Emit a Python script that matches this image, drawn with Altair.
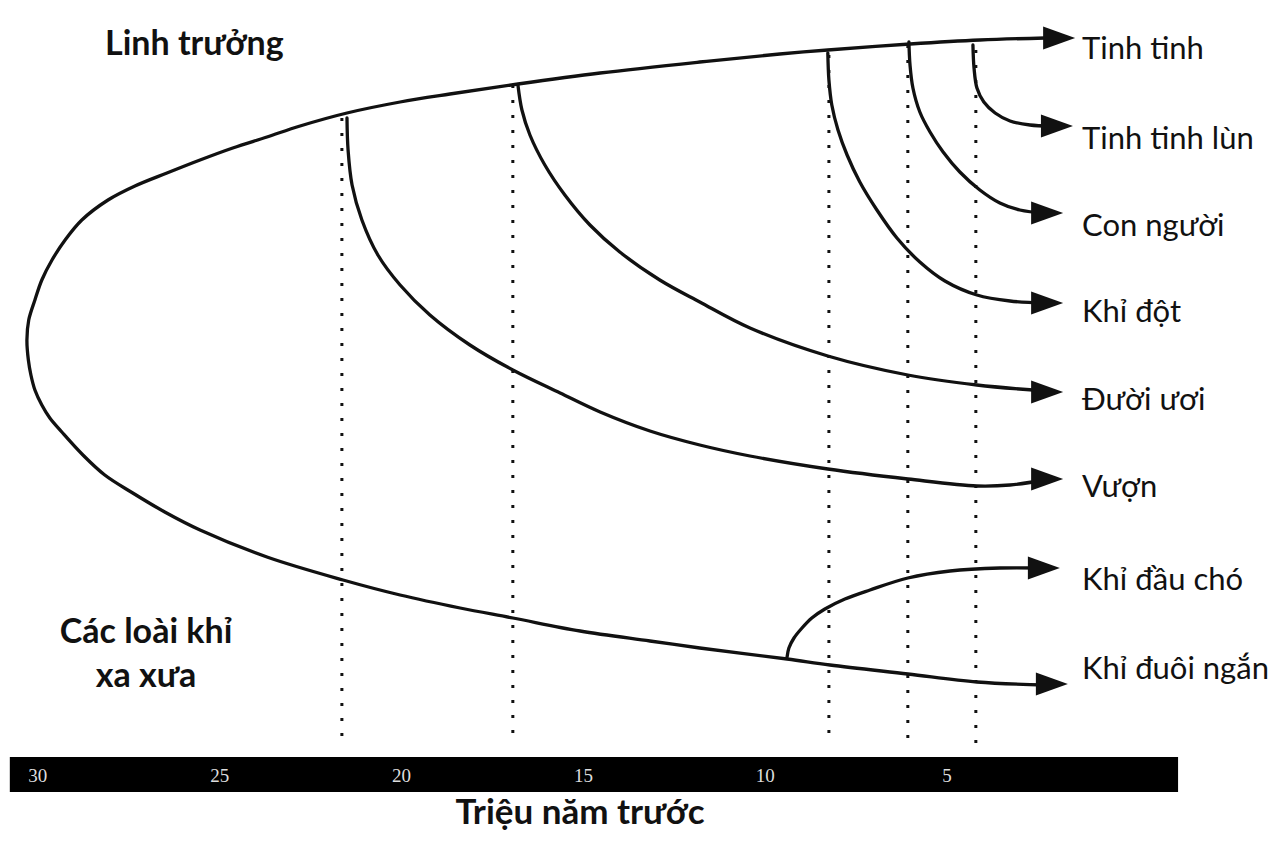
import altair as alt
import pandas as pd

# ---------------- data (time in million years ago, vertical = diagram row position) ----------------
tick_values = [30, 25, 20, 15, 10, 5]
tick_labels = ["30", "25", "20", "15", "10", "5"]
axis_span = [30.77, -1.35]          # extent of the black time bar (Myr)

species = ["Tinh tinh", "Tinh tinh lùn", "Con người", "Khỉ đột",
           "Đười ươi", "Vượn", "Khỉ đầu chó", "Khỉ đuôi ngắn"]
arrow_myr = [1.92, 1.98, 2.25, 2.25, 2.25, 2.25, 2.34, 2.12]
arrow_pos = [38, 126, 213, 303, 392, 479, 568, 684]
label_pos = [59, 149, 236, 322, 410, 497, 590, 679]

# divergence times marked by dotted lines
split_myr = [21.64, 16.94, 8.25, 6.08, 4.21]
split_top = [118, 85, 55, 45, 50]

# root: upper (primates) arc from Tinh tinh back to the origin, then lower (old-world monkeys) arc
root_myr = [2.31, 4.10, 6.02, 8.28, 9.60, 11.80, 14.54, 16.80, 18.67, 20.04, 21.50, 22.79,
            23.70, 24.64, 25.54, 26.45, 27.33, 28.07, 28.79, 29.25, 29.61, 29.89, 30.08, 30.25, 30.30,
            30.26, 30.19, 30.08, 29.89, 29.67, 29.34, 28.76, 28.16, 27.39, 26.51, 25.54, 23.70,
            21.61, 20.04, 18.39, 16.94, 15.09, 13.17, 11.80, 9.40, 8.22, 6.08, 4.18, 2.31]
root_pos = [38, 40, 44, 50, 54, 62, 73, 84, 94, 102, 113, 126,
            137, 148, 160, 173, 186, 200, 220, 240, 260, 280, 300, 320, 340,
            360, 375, 390, 405, 418, 432, 455, 475, 493, 512, 530, 557,
            580, 595, 608, 618, 631, 641, 648, 659, 665, 674, 682, 685]

vuon_myr = [21.50, 21.47, 21.36, 21.09, 20.65, 20.04, 19.22, 18.12, 16.94, 15.64, 14.54,
            13.17, 11.80, 10.42, 8.28, 6.08, 4.18, 3.27, 2.31]
vuon_pos = [118, 150, 185, 220, 255, 285, 315, 345, 370, 393, 412,
            431, 445, 456, 469, 479, 486, 485, 480]

duoi_uoi_myr = [16.80, 16.69, 16.47, 16.06, 15.51, 14.82, 14.00, 12.90, 11.80, 10.42, 8.28, 6.08, 4.18, 2.31]
duoi_uoi_pos = [85, 110, 135, 165, 195, 225, 252, 280, 302, 328, 356, 375, 385, 391]

khi_dot_myr = [8.28, 8.25, 8.17, 8.00, 7.75, 7.40, 6.93, 6.38, 5.75, 5.06, 4.18, 3.27, 2.31]
khi_dot_pos = [53, 80, 105, 130, 155, 182, 210, 238, 262, 281, 295, 301, 303]

con_nguoi_myr = [6.05, 6.02, 5.94, 5.75, 5.47, 5.11, 4.65, 4.10, 3.55, 3.00, 2.31]
con_nguoi_pos = [42, 65, 88, 112, 132, 152, 172, 190, 203, 210, 213]

tinh_tinh_lun_myr = [4.29, 4.26, 4.18, 3.99, 3.68, 3.27, 2.72, 2.17]
tinh_tinh_lun_pos = [45, 68, 88, 102, 113, 121, 125, 126]

khi_dau_cho_myr = [9.40, 9.35, 9.21, 8.99, 8.72, 8.36, 7.81, 7.12, 6.08, 4.92, 3.55, 2.45]
khi_dau_cho_pos = [657, 648, 638, 628, 618, 609, 599, 590, 578, 571, 568, 568]

# ---------------- tables ----------------
paths = {
    "gốc": (root_myr, root_pos),
    "Vượn": (vuon_myr, vuon_pos),
    "Đười ươi": (duoi_uoi_myr, duoi_uoi_pos),
    "Khỉ đột": (khi_dot_myr, khi_dot_pos),
    "Con người": (con_nguoi_myr, con_nguoi_pos),
    "Tinh tinh lùn": (tinh_tinh_lun_myr, tinh_tinh_lun_pos),
    "Khỉ đầu chó": (khi_dau_cho_myr, khi_dau_cho_pos),
}
rows = []
for name, (ms, ps) in paths.items():
    for i, (m, p) in enumerate(zip(ms, ps)):
        rows.append({"branch": name, "step": i, "myr": m, "pos": p})
paths_df = pd.DataFrame(rows)

sp_df = pd.DataFrame({"species": species, "myr": arrow_myr, "pos": arrow_pos, "label_pos": label_pos})
split_df = pd.DataFrame({"myr": split_myr, "top": split_top})
tick_df = pd.DataFrame({"myr": tick_values, "label": tick_labels})
bar_df = pd.DataFrame({"start": [axis_span[0]], "end": [axis_span[1]]})

FONT = "Lato, Liberation Sans, sans-serif"
INK = "#111111"

X = alt.Scale(domain=[-3.85, 30.82], reverse=True, nice=False, zero=False)
Y = alt.Scale(domain=[8, 833], reverse=True, nice=False, zero=False)

dotted = alt.Chart(split_df).mark_rule(
    color=INK, strokeWidth=3, strokeDash=[3, 12], strokeCap="butt"
).encode(
    x=alt.X("myr:Q", scale=X, axis=None),
    y=alt.Y("top:Q", scale=Y, axis=None),
    y2=alt.value(737),
)

lines = alt.Chart(paths_df).mark_line(
    color=INK, strokeWidth=3.3, interpolate="catmull-rom", strokeCap="round", strokeJoin="round"
).encode(
    x=alt.X("myr:Q", scale=X, axis=None),
    y=alt.Y("pos:Q", scale=Y, axis=None),
    detail="branch:N",
    order="step:Q",
)

arrows = alt.Chart(sp_df).mark_point(
    shape="M-1,-0.72L1,0L-1,0.72Z", size=1024, filled=True, color=INK, opacity=1, strokeWidth=0
).encode(
    x=alt.X("myr:Q", scale=X, axis=None),
    y=alt.Y("pos:Q", scale=Y, axis=None),
)

labels = alt.Chart(sp_df).mark_text(
    align="left", baseline="alphabetic", font=FONT, fontSize=31, color=INK
).encode(
    x=alt.value(1074),
    y=alt.Y("label_pos:Q", scale=Y, axis=None),
    text="species:N",
)

bar = alt.Chart(bar_df).mark_rect(color="#000000").encode(
    x=alt.X("start:Q", scale=X, axis=None),
    x2="end:Q",
    y=alt.value(749),
    y2=alt.value(784),
)

ticks = alt.Chart(tick_df).mark_text(
    align="center", baseline="alphabetic", font="Liberation Serif, serif", fontSize=19, color="#dddddd"
).encode(
    x=alt.X("myr:Q", scale=X, axis=None),
    y=alt.value(774),
    text="label:N",
)

title_primates = alt.Chart(pd.DataFrame({"t": ["Linh trưởng"]})).mark_text(
    align="left", baseline="alphabetic", font=FONT, fontSize=34, fontWeight="bold", color=INK
).encode(x=alt.value(97), y=alt.value(47), text="t:N")

title_monkeys = alt.Chart(pd.DataFrame({"t": ["Các loài khỉ\nxa xưa"]})).mark_text(
    align="center", baseline="alphabetic", font=FONT, fontSize=34, fontWeight="bold",
    color=INK, lineBreak="\n", lineHeight=44
).encode(x=alt.value(138), y=alt.value(635), text="t:N")

title_axis = alt.Chart(pd.DataFrame({"t": ["Triệu năm trước"]})).mark_text(
    align="center", baseline="alphabetic", font=FONT, fontSize=35, fontWeight="bold", color=INK
).encode(x=alt.value(572), y=alt.value(816), text="t:N")

chart = alt.layer(
    dotted, lines, arrows, labels, bar, ticks, title_primates, title_monkeys, title_axis
).properties(
    width=1261, height=825, padding=0,
    autosize=alt.AutoSizeParams(type="none"),
    background="white",
).configure_view(strokeWidth=0)

chart.save("out.html", embed_options={"renderer": "svg", "actions": False})
